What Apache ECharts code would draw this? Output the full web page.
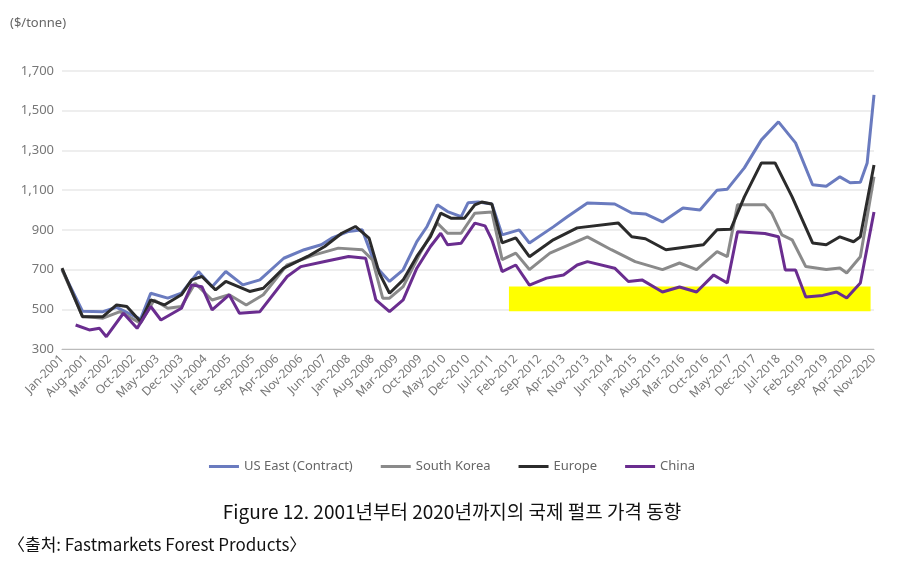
<!DOCTYPE html>
<html><head><meta charset="utf-8">
<script src="https://cdn.jsdelivr.net/npm/echarts@6/dist/echarts.min.js"></script>
<style>html,body{margin:0;background:#fff}#c{width:904px;height:569px}</style>
</head><body><div id="c"></div>
<script>
var monthNames=['Jan','Feb','Mar','Apr','May','Jun','Jul','Aug','Sep','Oct','Nov','Dec'];
var categories=[];for(var i=0;i<239;i++){categories.push(monthNames[i%12]+'-'+(2001+Math.floor(i/12)));}
var yTicks=[300,500,700,900,1100,1300,1500,1700];
var usEast=[[0,700],[6,490],[12,488],[16,510],[23,450],[26,581],[31,556],[35,581],[40,690],[44,614],[48,690],[53,623],[58,648],[65,757],[71,800],[76,825],[79,858],[84,892],[88,900],[92,715],[96,640],[100,699],[104,841],[107,917],[110,1026],[113,992],[117,967],[119,1036],[122,1040],[126,1030],[129,875],[134,900],[137,834],[144,915],[148,965],[154,1035],[162,1030],[167,985],[171,980],[176,940],[182,1010],[187,1000],[192,1100],[195,1105],[200,1212],[205,1353],[210,1444],[215,1338],[220,1127],[224,1120],[228,1167],[231,1137],[234,1140],[236,1237],[238,1580]];
var southKorea=[[0,700],[6,465],[12,455],[17,488],[23,430],[27,547],[31,505],[35,514],[39,631],[44,547],[49,573],[54,522],[59,573],[66,724],[74,774],[81,808],[88,800],[91,749],[94,556],[96,556],[100,614],[105,783],[110,934],[113,883],[117,883],[121,984],[126,990],[129,750],[133,783],[137,700],[143,783],[154,865],[161,800],[168,740],[176,700],[181,733],[186,700],[192,790],[195,765],[198,1026],[206,1026],[208,985],[211,875],[214,850],[218,715],[224,700],[228,708],[230,683],[234,765],[238,1167]];
var europe=[[0,707],[6,463],[12,463],[16,522],[19,514],[23,438],[26,547],[30,522],[35,573],[38,648],[41,665],[45,598],[48,640],[55,590],[59,606],[65,707],[72,766],[77,816],[82,883],[86,917],[90,858],[93,682],[96,581],[100,648],[104,766],[108,866],[111,984],[114,959],[118,959],[121,1026],[123,1040],[126,1030],[129,834],[133,860],[137,765],[144,850],[151,910],[163,935],[167,865],[171,855],[177,800],[188,825],[192,900],[196,903],[200,1066],[205,1237],[209,1237],[214,1066],[220,834],[224,825],[228,865],[232,840],[234,865],[238,1227]];
var china=[[4,421],[8,396],[11,404],[13,362],[18,480],[22,404],[26,514],[29,446],[35,505],[38,623],[41,614],[44,497],[49,573],[52,480],[58,488],[66,665],[70,715],[77,741],[84,766],[89,757],[92,547],[96,488],[100,547],[104,707],[108,816],[111,883],[113,825],[117,833],[121,934],[124,920],[126,850],[129,690],[133,723],[137,622],[142,657],[147,673],[151,723],[154,740],[162,707],[166,640],[170,648],[176,587],[181,612],[186,587],[191,673],[195,632],[198,890],[206,882],[210,865],[212,698],[215,698],[218,562],[223,570],[227,587],[230,557],[234,632],[238,990]];
var seriesNames=['US East (Contract)','South Korea','Europe','China'];
var colors=['#6a7bbf','#8a8a8a','#2b2b2b','#6a2d8f'];
var datas=[usEast,southKorea,europe,china];
var series=datas.map(function(d,k){return {name:seriesNames[k],type:'line',data:d,showSymbol:false,symbol:'none',lineStyle:{width:3,color:colors[k]},itemStyle:{color:colors[k]},z:3+k};});
series.push({type:'line',data:[],z:1,markArea:{silent:true,itemStyle:{color:'#ffff00'},data:[[{xAxis:131,yAxis:490},{xAxis:237,yAxis:615}]]}});
var chart=echarts.init(document.getElementById('c'));
chart.setOption({
 animation:false,
 grid:{left:62,right:30,top:71,bottom:220},
 xAxis:{type:'category',data:categories,boundaryGap:false,
  axisLine:{lineStyle:{color:'#bbb'}},axisTick:{show:false},
  axisLabel:{interval:6,rotate:45,color:'#777',fontSize:12,fontFamily:'Noto Sans',margin:8}},
 yAxis:{type:'value',min:300,max:1700,interval:200,
  axisLabel:{color:'#777',fontSize:13,fontFamily:'Noto Sans',formatter:function(v){return v.toLocaleString('en-US');}},
  splitLine:{lineStyle:{color:'#e8e8e8',width:1.5}},axisLine:{show:false},axisTick:{show:false}},
 legend:{top:455,left:'center',data:seriesNames,itemWidth:30,itemHeight:3,icon:'rect',itemGap:28,
  textStyle:{color:'#666',fontSize:13,fontFamily:'Noto Sans'}},
 series:series,
 graphic:[
  {type:'text',left:10,top:17,style:{text:'($/tonne)',fill:'#666',font:'13px "Noto Sans"'}},
  {type:'text',left:'center',top:502,style:{text:'Figure 12. 2001년부터 2020년까지의 국제 펄프 가격 동향',fill:'#111',font:'19px "Noto Sans CJK KR"'}},
  {type:'text',left:8,top:536,style:{text:'〈출처: Fastmarkets Forest Products〉',fill:'#111',font:'17px "Noto Sans CJK KR"'}}
 ]
});
</script></body></html>
